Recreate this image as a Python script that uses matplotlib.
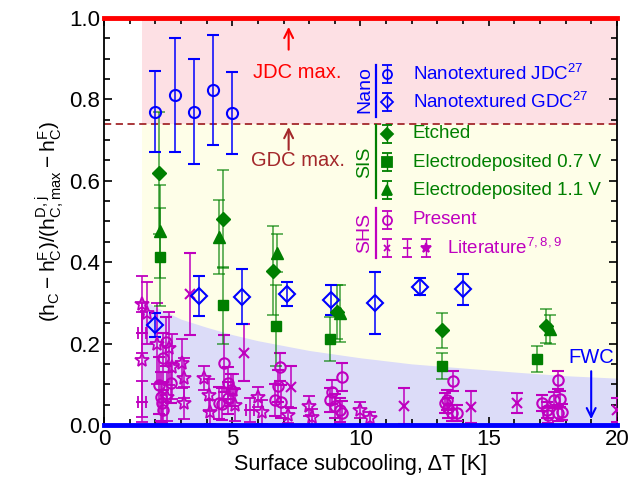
import matplotlib
matplotlib.use('Agg')
import matplotlib.pyplot as plt
import numpy as np

plt.rcParams['font.family'] = ['Liberation Sans', 'DejaVu Sans']
plt.rcParams['mathtext.default'] = 'regular'

BLUE = '#0000ff'
GREEN = '#007f00'
MAG = '#bf00bf'
RED = '#ff0000'
DRED = '#a3282b'

# nanotextured surfaces
jdc_x = [1.98, 2.76, 3.5, 4.25, 5.0]
jdc_y = [0.77, 0.81, 0.77, 0.823, 0.766]
jdc_e = [0.10, 0.14, 0.13, 0.135, 0.10]
gdc_x = [1.98, 3.7, 5.4, 7.15, 8.87, 10.58, 12.33, 14.0]
gdc_y = [0.246, 0.317, 0.315, 0.322, 0.307, 0.30, 0.34, 0.333]
gdc_e = [0.03, 0.05, 0.067, 0.03, 0.037, 0.076, 0.02, 0.038]

# SIS
etch_x = [2.14, 4.63, 6.58, 9.1, 13.2, 17.23]
etch_y = [0.619, 0.506, 0.379, 0.278, 0.233, 0.243]
etch_e = [0.15, 0.12, 0.11, 0.066, 0.043, 0.042]
ed07_x = [2.2, 4.64, 6.72, 8.8, 13.2, 16.9]
ed07_y = [0.413, 0.294, 0.244, 0.211, 0.145, 0.162]
ed07_e = [0.12, 0.095, 0.10, 0.055, 0.031, 0.032]
ed11_x = [2.2, 4.48, 6.73, 9.2, 17.4]
ed11_y = [0.476, 0.462, 0.422, 0.275, 0.235]
ed11_e = [0.114, 0.09, 0.047, 0.07, 0.035]

# SHS present
pres_x = [2.4, 2.3, 2.6, 2.15, 2.22, 2.27, 2.3, 4.48, 4.68, 4.85, 4.95, 4.85, 4.6,
          6.86, 6.8, 6.67, 6.9, 9.3, 8.9, 8.8, 9.0, 9.2, 9.27,
          13.6, 13.37, 13.3, 13.4, 13.56, 13.76,
          17.7, 17.1, 17.27, 17.55, 17.8, 17.85, 17.7, 17.3]
pres_y = [0.204, 0.165, 0.103, 0.098, 0.069, 0.054, 0.037, 0.054, 0.152, 0.103, 0.086, 0.066, 0.052,
          0.142, 0.096, 0.061, 0.057, 0.118, 0.081, 0.061, 0.047, 0.037, 0.029,
          0.108, 0.061, 0.054, 0.042, 0.029, 0.029,
          0.11, 0.054, 0.037, 0.061, 0.064, 0.032, 0.029, 0.025]
pres_e = [0.06, 0.06, 0.05, 0.07, 0.06, 0.05, 0.05, 0.04, 0.07, 0.04, 0.04, 0.04, 0.04,
          0.035, 0.04, 0.04, 0.04, 0.035, 0.03, 0.03, 0.03, 0.03, 0.03,
          0.025, 0.025, 0.025, 0.025, 0.02, 0.02,
          0.022, 0.02, 0.02, 0.02, 0.02, 0.02, 0.02, 0.02]

# SHS literature
litx_x = [3.35, 5.46, 7.29, 11.7, 14.3, 16.1, 20.0]
litx_y = [0.322, 0.177, 0.093, 0.047, 0.044, 0.054, 0.037]
litx_e = [0.10, 0.07, 0.052, 0.045, 0.04, 0.025, 0.03]
litp_x = [1.47, 1.47, 5.7]
litp_y = [0.057, 0.227, 0.037]
litp_e = [0.05, 0.05, 0.03]
lits_x = [1.47, 1.66, 1.47, 2.06, 2.54, 2.65, 2.45, 3.05, 3.12, 3.12, 3.9, 4.1, 4.13,
          5.03, 5.1, 6.0, 6.16, 7.17, 8.0, 8.1, 9.98, 10.37]
lits_y = [0.297, 0.275, 0.16, 0.20, 0.188, 0.143, 0.069, 0.152, 0.115, 0.054, 0.115, 0.074, 0.032,
          0.086, 0.049, 0.069, 0.032, 0.025, 0.047, 0.02, 0.037, 0.017]
lits_e = [0.07, 0.075, 0.14, 0.10, 0.09, 0.08, 0.06, 0.06, 0.05, 0.04, 0.03, 0.04, 0.03,
          0.04, 0.04, 0.025, 0.03, 0.02, 0.025, 0.02, 0.02, 0.015]

# shaded band boundary
band_x = [1.5, 2, 3, 4, 5, 6, 7, 8, 10, 12, 14, 16, 18, 20]
band_y = [0.31, 0.29, 0.26, 0.24, 0.222, 0.207, 0.195, 0.183, 0.165, 0.15, 0.14, 0.13, 0.121, 0.115]

jdc_max = 1.0
gdc_max = 0.74
x_start = 1.5

fig = plt.figure(figsize=(6.32, 4.84), dpi=100)
ax = fig.add_axes([0.1646, 0.122, 0.8114, 0.841])

ax.fill_between([x_start, 20], gdc_max, jdc_max, color='#fde0e4', lw=0, zorder=0)
ax.fill_between([x_start, 20], 0, gdc_max, color='#fefee8', lw=0, zorder=0)
ax.fill_between(band_x, 0, band_y, color='#dcdcf8', lw=0, zorder=0.5)

ax.axhline(jdc_max, color=RED, lw=3.5, zorder=5, clip_on=False)
ax.axhline(gdc_max, color=DRED, lw=1.3, ls=(0, (4, 2.5)), zorder=1)
ax.axhline(0, color=BLUE, lw=3.5, zorder=5, clip_on=False)

eb = dict(capsize=4, elinewidth=1.1, capthick=1.1, ls='none', zorder=3)
gcol = (0, 0.5, 0, 0.75)
ax.errorbar(lits_x, lits_y, yerr=lits_e, fmt='*', ms=10, mfc='none', mec=MAG, mew=1.3, color=MAG, **eb)
ax.errorbar(litp_x, litp_y, yerr=litp_e, xerr=0.15, fmt='_', ms=8, mew=1.3, color=MAG, **eb)
ax.errorbar(litx_x, litx_y, yerr=litx_e, fmt='x', ms=7, mew=1.5, color=MAG, **eb)
ax.errorbar(pres_x, pres_y, yerr=pres_e, fmt='o', ms=7.5, mfc='none', mec=MAG, mew=1.5, color=MAG, **eb)

ax.errorbar(etch_x, etch_y, yerr=etch_e, fmt='D', ms=7, color=GREEN, ecolor=gcol, **eb)
ax.errorbar(ed07_x, ed07_y, yerr=ed07_e, fmt='s', ms=7, color=GREEN, ecolor=gcol, **eb)
ax.errorbar(ed11_x, ed11_y, yerr=ed11_e, fmt='^', ms=8, color=GREEN, ecolor=gcol, **eb)

ax.errorbar(jdc_x, jdc_y, yerr=jdc_e, fmt='o', ms=8, mfc='none', mec=BLUE, mew=1.5, color=BLUE, **eb)
ax.errorbar(gdc_x, gdc_y, yerr=gdc_e, fmt='D', ms=8, mfc='none', mec=BLUE, mew=1.5, color=BLUE, **eb)

# annotations
arr = dict(arrowstyle='->', lw=1.5, shrinkA=0, shrinkB=0, mutation_scale=16)
ax.annotate('', xy=(7.2, 0.978), xytext=(7.2, 0.922), arrowprops=dict(color=RED, **arr))
ax.text(7.55, 0.867, 'JDC max.', color=RED, fontsize=14.5, ha='center', va='center')
ax.annotate('', xy=(7.2, 0.732), xytext=(7.2, 0.676), arrowprops=dict(color=DRED, **arr))
ax.text(7.55, 0.649, 'GDC max.', color=DRED, fontsize=14.5, ha='center', va='center')
ax.annotate('', xy=(19.0, 0.014), xytext=(19.0, 0.132), arrowprops=dict(color=BLUE, **arr))
ax.text(19.0, 0.165, 'FWC', color=BLUE, fontsize=14.5, ha='center', va='center')

# grouped legend
tr = ax.transAxes
groups = [
    ('Nano', BLUE, 0.885, 0.757, 0.823),
    ('SIS', GREEN, 0.737, 0.558, 0.646),
    ('SHS', MAG, 0.533, 0.41, 0.472),
]
for name, c, y0, y1, yc in groups:
    ax.plot([0.530, 0.530], [y0, y1], color=c, lw=1.6, transform=tr, zorder=6)
    ax.text(0.508, yc, name, color=c, fontsize=14, rotation=90, ha='center', va='center',
            transform=tr, zorder=6)

leg_entries = [
    (0.862, 'o', BLUE, True, 'Nanotextured JDC$^{27}$'),
    (0.794, 'D', BLUE, True, 'Nanotextured GDC$^{27}$'),
    (0.715, 'D', GREEN, False, 'Etched'),
    (0.646, 's', GREEN, False, 'Electrodeposited 0.7 V'),
    (0.577, '^', GREEN, False, 'Electrodeposited 1.1 V'),
    (0.504, 'o', MAG, True, 'Present'),
]
for y, m, c, hollow, label in leg_entries:
    ax.errorbar([0.552], [y], yerr=0.022, fmt=m, ms=6.5, mfc='none' if hollow else c, mec=c,
                mew=1.3, color=c, capsize=3.5, elinewidth=1, capthick=1, transform=tr, zorder=6)
    ax.text(0.602, y, label, color=c, fontsize=13.5, va='center', transform=tr, zorder=6)

for lx, m, ms in [(0.552, 'x', 5), (0.591, '_', 6), (0.628, '*', 7)]:
    ax.errorbar([lx], [0.435], yerr=0.022, fmt=m, ms=ms, color=MAG, mew=1.3,
                capsize=3.5, elinewidth=1, capthick=1, transform=tr, zorder=6)
ax.text(0.669, 0.435, 'Literature$^{7,8,9}$', color=MAG, fontsize=13.5, va='center',
        transform=tr, zorder=6)

ax.set_xlim(0, 20)
ax.set_ylim(0, 1.0)
ax.set_xticks([0, 5, 10, 15, 20])
ax.set_xticks(np.arange(0, 21, 1), minor=True)
ax.set_yticks([0, 0.2, 0.4, 0.6, 0.8, 1.0])
ax.set_yticks(np.arange(0, 1.01, 0.05), minor=True)
ax.yaxis.set_major_formatter(matplotlib.ticker.FormatStrFormatter('%.1f'))
ax.tick_params(which='both', direction='in', top=True, right=True, labelsize=16, width=1.2)
ax.tick_params(which='major', length=6, pad=3)
ax.tick_params(which='minor', length=4)
for s in ax.spines.values():
    s.set_linewidth(1.3)

ax.set_xlabel('Surface subcooling, ΔT [K]', fontsize=15.5, labelpad=3)
ax.set_ylabel('$(h_C - h_C^F)/(h^{D,j}_{C,max} - h_C^F)$', fontsize=15, labelpad=2)

fig.savefig('out.png', dpi=100)
